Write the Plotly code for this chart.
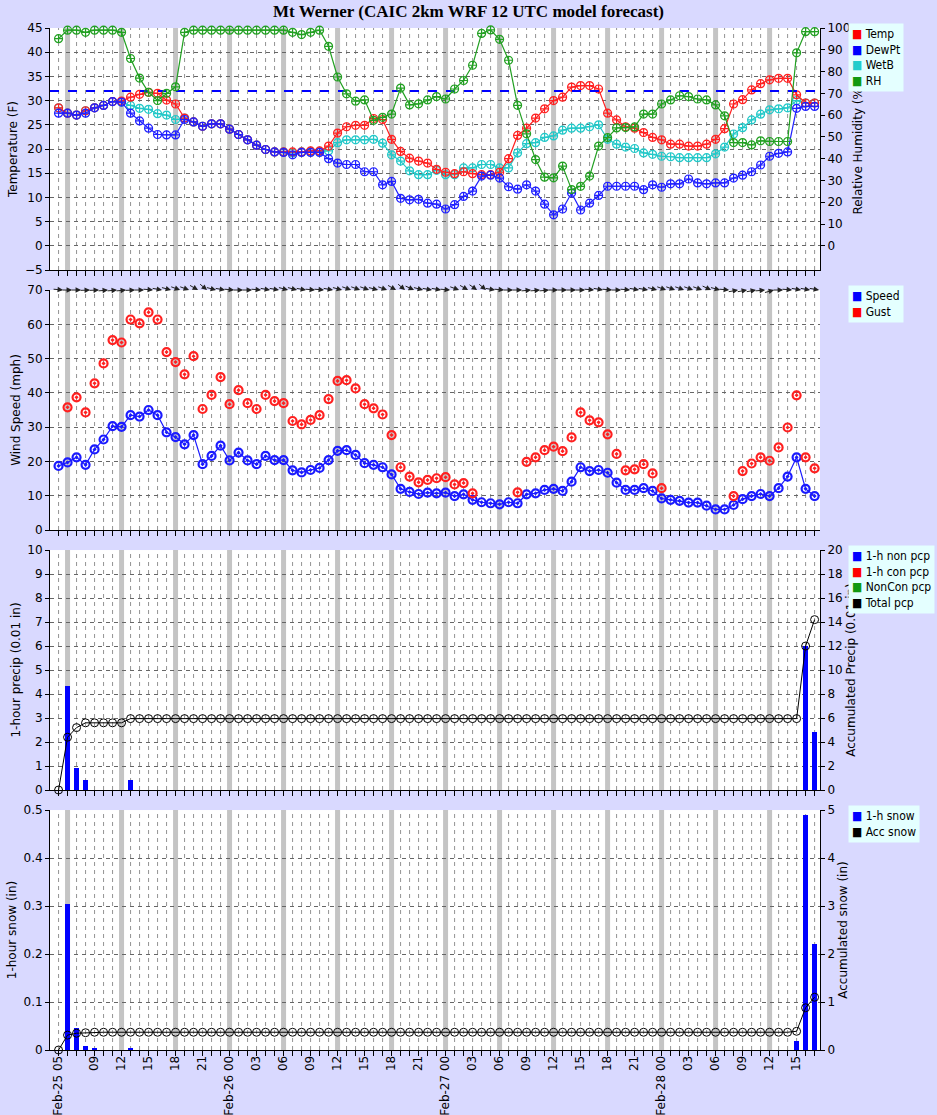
import math
import plotly.graph_objects as go

# ---------------- data (hourly, Feb-25 05 .. Feb-28 17) ----------------
hours = list(range(85))
tick_idx = [0, 4, 7, 10, 13, 16, 19, 22, 25, 28, 31, 34, 37, 40, 43, 46, 49, 52, 55, 58, 61, 64, 67, 70, 73, 76, 79, 82]
tick_text = ["Feb-25 05", "09", "12", "15", "18", "21", "Feb-26 00", "03", "06", "09", "12", "15", "18", "21",
             "Feb-27 00", "03", "06", "09", "12", "15", "18", "21", "Feb-28 00", "03", "06", "09", "12", "15"]

temp = [28.5, 27.4, 27.0, 27.9, 28.5, 29.0, 29.8, 29.9, 30.7, 31.3, 31.7, 31.5, 30.1, 29.3, 26.4, 25.6, 24.7, 25.2, 25.2,
        24.1, 23.0, 21.9, 20.8, 19.9, 19.4, 19.4, 19.4, 19.4, 19.6, 19.6, 20.6, 23.3, 24.6, 24.9, 24.9, 26.3, 26.1, 22.0,
        19.5, 18.1, 17.5, 17.1, 15.8, 15.2, 14.9, 15.3, 14.9, 14.7, 14.7, 15.2, 18.0, 22.8, 24.3, 26.4, 28.3, 30.0, 30.7,
        32.8, 33.1, 33.1, 32.4, 27.4, 26.0, 24.6, 24.3, 23.4, 22.4, 21.9, 21.0, 21.0, 20.6, 20.6, 21.0, 22.0, 24.2, 29.3,
        30.2, 32.2, 33.5, 34.3, 34.6, 34.6, 31.2, 29.5, 29.5]
dewpt = [27.4, 27.4, 27.0, 27.4, 28.5, 29.0, 29.8, 29.7, 27.4, 25.8, 24.3, 23.0, 22.9, 22.9, 26.1, 25.6, 24.7, 25.2, 25.2,
         24.1, 23.0, 21.9, 20.8, 19.9, 19.4, 19.3, 18.8, 19.3, 19.3, 19.3, 18.0, 17.1, 16.8, 16.8, 15.3, 15.3, 12.6, 13.3,
         9.8, 9.5, 9.6, 8.8, 8.6, 7.6, 8.5, 10.2, 11.3, 14.4, 14.6, 14.0, 12.2, 11.7, 12.6, 11.3, 8.6, 6.4, 7.6, 10.9,
         7.4, 8.8, 10.4, 12.3, 12.3, 12.3, 12.3, 11.6, 12.6, 12.1, 12.8, 12.8, 13.8, 13.0, 12.8, 13.0, 13.0, 14.0, 14.6,
         15.3, 16.7, 18.5, 19.1, 19.4, 28.4, 28.8, 28.8]
wetb = [28.5, 27.4, 27.0, 27.9, 28.5, 29.0, 29.8, 29.7, 29.0, 28.4, 28.2, 27.3, 27.0, 26.1, 26.4, 25.6, 24.7, 25.2, 25.2,
        24.1, 23.0, 21.9, 20.8, 19.9, 19.4, 19.4, 19.2, 19.4, 19.5, 19.5, 19.6, 21.3, 21.9, 21.9, 21.9, 22.0, 21.2, 18.8,
        17.5, 15.5, 14.7, 14.7, 15.6, 14.7, 14.7, 16.1, 16.1, 16.8, 16.8, 16.1, 16.1, 19.2, 21.1, 21.3, 22.4, 22.7, 23.9,
        24.3, 24.3, 24.6, 25.0, 22.0, 21.0, 20.4, 20.1, 19.2, 18.9, 18.5, 18.4, 18.2, 18.2, 18.2, 18.2, 19.0, 20.4, 23.1,
        24.4, 26.0, 27.2, 28.1, 28.3, 28.5, 30.0, 29.5, 29.5]
rh = [95.1, 99.0, 99.0, 98.0, 99.0, 99.0, 99.0, 98.0, 86.0, 77.0, 70.5, 66.7, 70.0, 73.0, 98.0, 99.0, 99.0, 99.0, 99.0,
      99.0, 99.0, 99.0, 99.0, 99.0, 99.0, 99.0, 98.0, 97.0, 98.0, 99.0, 91.6, 77.5, 69.8, 66.4, 67.0, 57.6, 59.0, 60.5,
      72.4, 64.7, 65.2, 67.0, 68.5, 67.4, 72.0, 75.9, 82.9, 97.5, 99.1, 94.8, 85.2, 64.5, 51.4, 39.6, 31.5, 31.2, 36.6,
      25.8, 27.3, 32.0, 45.8, 49.7, 54.1, 54.3, 54.6, 60.5, 60.5, 65.1, 67.0, 68.9, 68.5, 67.4, 67.0, 64.7, 59.7, 47.4,
      47.4, 46.3, 48.2, 47.9, 47.9, 47.9, 88.6, 98.3, 98.3]
freezing = 32

speed = [18.7, 19.7, 21.2, 19.0, 23.5, 26.4, 30.3, 30.1, 33.5, 33.1, 35.0, 33.5, 28.5, 27.1, 25.0, 27.7, 19.2, 21.6,
         24.6, 20.3, 22.6, 20.3, 19.2, 21.6, 20.4, 20.4, 17.4, 16.8, 17.5, 18.1, 20.4, 23.1, 23.3, 21.9, 19.5, 19.0, 18.3,
         16.2, 12.0, 11.1, 10.5, 10.9, 10.7, 10.9, 9.9, 10.4, 8.8, 8.1, 7.8, 7.5, 8.1, 7.8, 10.4, 10.7, 11.7, 12.0, 11.4,
         14.1, 18.3, 17.2, 17.5, 16.7, 13.8, 11.7, 11.7, 12.2, 11.4, 9.2, 8.8, 8.5, 8.0, 8.0, 7.1, 6.0, 6.0, 7.3, 9.0, 9.9,
         10.5, 9.9, 12.2, 15.6, 21.2, 12.0, 9.9]
gust = [None, 35.8, 38.7, 34.3, 42.8, 48.6, 55.4, 54.7, 61.4, 60.3, 63.5, 61.4, 51.9, 49.0, 45.4, 50.7, 35.3, 39.4, 44.6,
        36.7, 40.8, 37.0, 35.3, 39.4, 37.6, 37.0, 31.8, 30.8, 32.1, 33.5, 38.2, 43.5, 43.7, 41.3, 36.7, 35.5, 33.7, 27.7,
        18.3, 15.6, 13.9, 14.6, 15.1, 15.4, 13.3, 13.7, 10.7, None, None, None, None, 11.0, 19.9, 21.2, 23.3, 24.3, 23.0,
        27.0, 34.3, 32.0, 31.4, 27.9, 22.2, 17.4, 17.7, 19.2, 16.5, 12.2, None, None, None, None, None, None, None, 9.9,
        17.2, 19.4, 21.2, 20.2, 24.1, 29.9, 39.3, 21.2, 18.0]
wind_dir_angle = [95, 90, 90, 88, 88, 85, 85, 85, 88, 90, 95, 100, 105, 110, 110, 120, 130, 105, 100, 95, 90, 90, 95, 100,
                  100, 105, 105, 100, 95, 95, 100, 105, 110, 110, 110, 105, 110, 120, 130, 115, 105, 100, 100, 95, 110,
                  120, 125, 130, 100, 95, 90, 90, 85, 85, 85, 90, 90, 90, 90, 95, 100, 95, 90, 95, 100, 100, 105, 110,
                  110, 110, 110, 110, 115, 105, 95, 80, 80, 80, 85, 75, 90, 95, 100, 100, 100]

precip_1h = [0, 4.35, 0.9, 0.4, 0, 0, 0, 0, 0.4] + [0] * 74 + [6.0, 2.4]
precip_acc = [0, 4.4, 5.2, 5.6, 5.6, 5.6, 5.6, 5.6] + [5.95] * 75 + [12.0, 14.2]
snow_1h = [0, 0.305, 0.045, 0.008, 0.004, 0, 0, 0, 0.004] + [0] * 73 + [0.018, 0.49, 0.22]
snow_acc = [0, 0.31, 0.35, 0.36] + [0.37] * 78 + [0.39, 0.88, 1.1]

legend_items = [
    [("Temp", "#ff0000"), ("DewPt", "#0000ff"), ("WetB", "#22cccc"), ("RH", "#119911")],
    [("Speed", "#0000ff"), ("Gust", "#ff0000")],
    [("1-h non pcp", "#0000ff"), ("1-h con pcp", "#ff0000"), ("NonCon pcp", "#119911"), ("Total pcp", "#000000")],
    [("1-h snow", "#0000ff"), ("Acc snow", "#000000")],
]

# ---------------- figure ----------------
BG = "#d9d9ff"
LEG = "#e4ffff"
GRID = "#666666"
fig = go.Figure()
doms = [[0.7632, 1.0], [0.5088, 0.7436], [0.2544, 0.4892], [0.0, 0.2348]]
xr = [-0.95, 84.6]
font = "DejaVu Sans"
legfont = "DejaVu Sans Condensed, DejaVu Sans"

def line_trace(y, color, xa, ya, symbol="circle-cross-open", size=8, mode="lines+markers", lw=1.2, mlw=1.2):
    return go.Scatter(x=hours, y=y, mode=mode, xaxis=xa, yaxis=ya, showlegend=False,
                      line=dict(color=color, width=lw),
                      marker=dict(symbol=symbol, size=size, color=color, line=dict(width=mlw, color=color)),
                      cliponaxis=False)

fig.add_trace(line_trace(rh, "#22a022", "x", "y5"))
fig.add_trace(line_trace(wetb, "#22c8c8", "x", "y"))
fig.add_trace(line_trace(temp, "#ff2020", "x", "y"))
fig.add_trace(line_trace(dewpt, "#2020ff", "x", "y"))
fig.add_trace(go.Scatter(x=[xr[0], xr[1]], y=[freezing, freezing], mode="lines", xaxis="x", yaxis="y",
                         showlegend=False, line=dict(color="#0000ff", width=2, dash="dash")))
fig.add_trace(line_trace(speed, "#1a1aff", "x2", "y2", symbol="circle-open-dot", size=8, mlw=2.2))
fig.add_trace(go.Scatter(x=hours, y=gust, mode="markers", xaxis="x2", yaxis="y2", showlegend=False,
                         marker=dict(symbol="circle-open-dot", size=8, color="#ff2020", line=dict(width=2.2, color="#ff2020"))))
fig.add_trace(go.Bar(x=hours, y=precip_1h, xaxis="x3", yaxis="y3", showlegend=False, width=0.6,
                     marker=dict(color="#0000ff", line=dict(width=0))))
fig.add_trace(line_trace(precip_acc, "#000000", "x3", "y7", symbol="circle-open", size=8, lw=1, mlw=1))
fig.add_trace(go.Bar(x=hours, y=snow_1h, xaxis="x4", yaxis="y4", showlegend=False, width=0.6,
                     marker=dict(color="#0000ff", line=dict(width=0))))
fig.add_trace(line_trace(snow_acc, "#000000", "x4", "y8", symbol="circle-open", size=8, lw=1, mlw=1))

annotations = []
for h, a in zip(hours, wind_dir_angle):
    r = math.radians(a)
    annotations.append(dict(x=h + 0.5, y=70, xref="x2", yref="y2", text="", showarrow=True,
                            ax=round(-11 * math.sin(r), 2), ay=round(11 * math.cos(r), 2),
                            arrowhead=2, arrowsize=1.1, arrowwidth=1, arrowcolor="#222222"))

for k, items in enumerate(legend_items):
    txt = "<br>".join(f"<span style='color:{c}'>■</span> {n}" for n, c in items)
    annotations.append(dict(x=1.036, y=doms[k][1] + 0.005, xref="paper", yref="paper", xanchor="left", yanchor="top",
                            text=txt, showarrow=False, align="left", bgcolor=LEG, borderpad=3,
                            font=dict(size=12, family=legfont, color="black")))

def xaxis_cfg(i, labels):
    return dict(domain=[0, 1], range=xr, anchor=f"y{'' if i == 1 else i}", showgrid=False, zeroline=False,
                automargin=False,
                tickmode="array", tickvals=tick_idx, ticktext=tick_text if labels else [""] * len(tick_idx),
                showticklabels=labels, tickangle=-90, ticks="", tickfont=dict(size=12, color="black", family=font),
                minor=dict(dtick=1, tick0=0, ticks="outside", ticklen=5, tickcolor="black", showgrid=False),
                showline=True, linecolor="black", linewidth=1, mirror=False)

left = [("Temperature (F)", [-5, 45], 5), ("Wind Speed (mph)", [0, 70], 10),
        ("1-hour precip (0.01 in)", [0, 10], 1), ("1-hour snow (in)", [0, 0.5], 0.1)]
right = [("Relative Humidity (%)", [-100 / 9, 100], 10), ("Wind Speed (mph)", [0, 70], 10),
         ("Accumulated Precip (0.01 in)", [0, 20], 2), ("Accumulated snow (in)", [0, 5], 1)]
layout_axes = {}
for k in range(4):
    i = k + 1
    xa = "xaxis" if i == 1 else f"xaxis{i}"
    layout_axes[xa] = xaxis_cfg(i, i == 4)
    t, r, d = left[k]
    layout_axes["yaxis" if i == 1 else f"yaxis{i}"] = dict(
        domain=doms[k], range=r, dtick=d, anchor="x" if i == 1 else f"x{i}", automargin=False,
        title=dict(text=t, font=dict(size=12, family=font, color="black"), standoff=4),
        showgrid=True, gridcolor=GRID, griddash="4px,4px", gridwidth=0.7, zeroline=False,
        ticks="outside", ticklen=4, tickcolor="black", tickfont=dict(size=12, family=font, color="black"),
        showline=True, linecolor="black", linewidth=1)
    t2, r2, d2 = right[k]
    n = int(round(r2[1] / d2))
    tv = [round(j * d2, 3) for j in range(n + 1)]
    layout_axes[f"yaxis{i + 4}"] = dict(
        range=r2, tickmode="array", tickvals=tv, ticktext=[f"{v:g}" for v in tv],
        overlaying="y" if i == 1 else f"y{i}", side="right", automargin=False,
        anchor="x" if i == 1 else f"x{i}",
        title=dict(text=t2, font=dict(size=12, family=font, color="black"), standoff=4),
        showgrid=False, zeroline=False, ticks="outside", ticklen=4, tickcolor="black",
        tickfont=dict(size=12, family=font, color="black"),
        showline=True, linecolor="black", linewidth=1)

shapes = []
for k in range(4):
    i = k + 1
    xref = "x" if i == 1 else f"x{i}"
    yref = ("y" if i == 1 else f"y{i}") + " domain"
    for h in hours:
        if (h - 1) % 6 != 0:
            shapes.append(dict(type="line", xref=xref, yref=yref, x0=h, x1=h, y0=0, y1=1,
                               line=dict(color=GRID, width=0.7, dash="4px,4px"), layer="below"))
    for h in range(1, 85, 6):
        shapes.append(dict(type="line", xref=xref, yref=yref, x0=h, x1=h, y0=0, y1=1,
                           line=dict(color="#c4c4c4", width=5), layer="below"))

fig.update_layout(
    width=937, height=1115, paper_bgcolor=BG, plot_bgcolor="white", showlegend=False,
    margin=dict(l=50, r=117, t=28, b=65, autoexpand=False), barmode="overlay", bargap=0,
    title=dict(text="<b>Mt Werner (CAIC 2km WRF 12 UTC model forecast)</b>", x=0.5, xanchor="center",
               y=0.995, yanchor="top", font=dict(family="Liberation Serif", size=17, color="black")),
    shapes=shapes, annotations=annotations,
    **layout_axes,
)

fig.write_html("out.html", config={"displayModeBar": False},
               post_script="document.body.style.margin='0';document.body.style.background='%s';" % BG)
